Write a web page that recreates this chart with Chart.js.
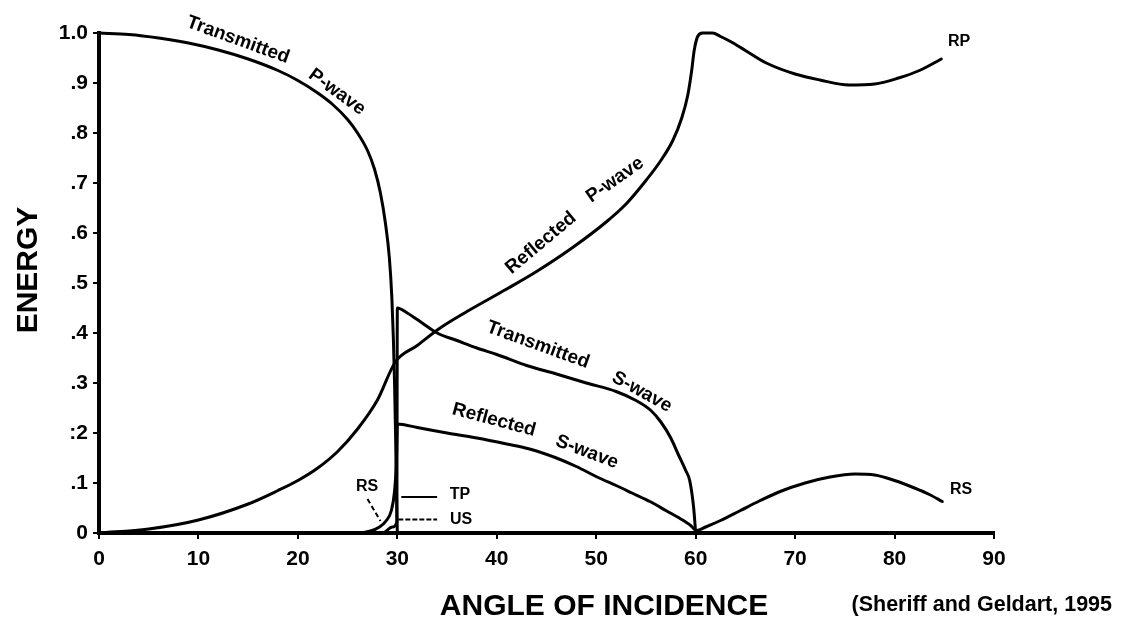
<!DOCTYPE html>
<html><head><meta charset="utf-8">
<script src="https://cdn.jsdelivr.net/npm/chart.js@4.4.1/dist/chart.umd.min.js"></script>
<style>html,body{margin:0;padding:0;background:#fff}#wrap{width:1123px;height:631px}</style>
</head><body><div id="wrap"><canvas id="c" width="1123" height="631"></canvas></div>
<script>
// ---- data (angle of incidence in degrees, energy fraction) ----
const yTickLabels = ['0', '.1', ':2', '.3', '.4', '.5', '.6', '.7', '.8', '.9', '1.0'];
const xTickValues = [0, 10, 20, 30, 40, 50, 60, 70, 80, 90];

const tpAngle  = [0, 3, 6, 9, 12, 15, 18, 20, 22, 23.5, 25, 26, 27, 27.7, 28.3, 28.8, 29.2, 29.45, 29.6, 29.72, 29.82, 29.9, 30];
const tpEnergy = [1.0, 0.997, 0.99, 0.98, 0.966, 0.948, 0.925, 0.905, 0.88, 0.857, 0.827, 0.8, 0.765, 0.728, 0.68, 0.62, 0.55, 0.47, 0.39, 0.3, 0.2, 0.1, 0];

const rpAngle  = [0, 5, 10, 15, 18, 20, 22, 24, 26, 28, 29.8, 32, 34.3, 37, 41, 44, 47.7, 51, 53, 55, 56.5, 57.7, 58.6, 59.2, 59.6, 59.85, 60.2, 60.7, 61.7, 62.5, 63.5, 65, 67.1, 70, 72.5, 75.4, 78, 80.4, 82.5, 84.7];
const rpEnergy = [0, 0.008, 0.026, 0.058, 0.085, 0.105, 0.13, 0.163, 0.208, 0.266, 0.342, 0.375, 0.41, 0.443, 0.488, 0.523, 0.572, 0.622, 0.658, 0.705, 0.745, 0.785, 0.83, 0.875, 0.925, 0.965, 0.993, 1.0, 1.0, 0.993, 0.983, 0.965, 0.94, 0.918, 0.906, 0.896, 0.898, 0.91, 0.925, 0.948];

const tsAngle  = [0, 28.5, 29.5, 29.95, 30, 31, 32.5, 34, 36, 38, 40, 43, 46, 49, 52, 54, 55.5, 56.5, 57.5, 58.3, 59, 59.4, 59.8, 60];
const tsEnergy = [0, 0, 0.012, 0.022, 0.45, 0.44, 0.42, 0.4, 0.385, 0.37, 0.357, 0.335, 0.318, 0.3, 0.283, 0.265, 0.245, 0.222, 0.19, 0.155, 0.125, 0.105, 0.05, 0];

const rsAngle  = [0, 26, 27.3, 28.2, 28.9, 29.4, 29.7, 29.9, 30, 32, 35, 38, 41, 43.3, 46, 48, 50.3, 52, 53.6, 55.5, 57, 58.5, 59.5, 60.1, 61, 62.5, 64.5, 66.4, 68.5, 71, 73.5, 76, 78, 80, 82, 83.5, 84.8];
const rsEnergy = [0, 0, 0.004, 0.012, 0.025, 0.045, 0.08, 0.14, 0.218, 0.211, 0.2, 0.19, 0.178, 0.168, 0.15, 0.133, 0.11, 0.095, 0.08, 0.062, 0.045, 0.028, 0.015, 0.005, 0.012, 0.025, 0.045, 0.064, 0.083, 0.1, 0.112, 0.118, 0.116, 0.105, 0.09, 0.077, 0.063];

const seriesNames = ['Transmitted P-wave', 'Reflected P-wave', 'Transmitted S-wave', 'Reflected S-wave'];

// ---- annotation texts (pixel placement) ----
const curveLabels = [
  { text: 'Transmitted', x: 238, y: 40,  rot: 20 },
  { text: 'P-wave',      x: 337, y: 92,  rot: 36 },
  { text: 'Reflected',   x: 541, y: 243, rot: -40 },
  { text: 'P-wave',      x: 615, y: 180, rot: -35 },
  { text: 'Transmitted', x: 538, y: 345, rot: 20 },
  { text: 'S-wave',      x: 642, y: 392, rot: 29 },
  { text: 'Reflected',   x: 494, y: 420, rot: 15 },
  { text: 'S-wave',      x: 587, y: 452, rot: 21 }
];
const smallLabels = [
  { text: 'RP', x: 959, y: 42 },
  { text: 'RS', x: 961, y: 490 },
  { text: 'RS', x: 367, y: 487 },
  { text: 'TP', x: 460, y: 495 },
  { text: 'US', x: 461, y: 520 }
];

const FONT = '"Liberation Sans", Arial, sans-serif';
function pts(a, v) { return a.map((x, i) => ({ x: x, y: v[i] })); }
function ds(label, a, v) {
  return { label: label, data: pts(a, v), borderColor: '#000', borderWidth: 3, pointRadius: 0,
           fill: false, cubicInterpolationMode: 'monotone', clip: false, borderCapStyle: 'round', borderJoinStyle: 'round' };
}

const decor = {
  id: 'decor',
  afterDatasetsDraw(chart) {
    const ctx = chart.ctx, xs = chart.scales.x, ys = chart.scales.y;
    ctx.save();
    ctx.fillStyle = '#000'; ctx.strokeStyle = '#000';
    // leader lines
    ctx.lineWidth = 2;
    ctx.beginPath();
    ctx.moveTo(xs.getPixelForValue(30.4), ys.getPixelForValue(0.072));
    ctx.lineTo(xs.getPixelForValue(34), ys.getPixelForValue(0.072));
    ctx.stroke();
    ctx.setLineDash([5, 2]);
    ctx.beginPath();
    ctx.moveTo(xs.getPixelForValue(30.1), ys.getPixelForValue(0.027));
    ctx.lineTo(xs.getPixelForValue(34), ys.getPixelForValue(0.027));
    ctx.stroke();
    ctx.setLineDash([5, 3]);
    ctx.beginPath();
    ctx.moveTo(xs.getPixelForValue(27.0), ys.getPixelForValue(0.068));
    ctx.lineTo(xs.getPixelForValue(28.3), ys.getPixelForValue(0.024));
    ctx.stroke();
    ctx.setLineDash([]);
    // curve labels
    ctx.textAlign = 'center'; ctx.textBaseline = 'middle';
    ctx.font = 'bold 19px ' + FONT;
    curveLabels.forEach(l => {
      ctx.save(); ctx.translate(l.x, l.y); ctx.rotate(l.rot * Math.PI / 180);
      ctx.fillText(l.text, 0, 0); ctx.restore();
    });
    ctx.font = 'bold 16px ' + FONT;
    smallLabels.forEach(l => ctx.fillText(l.text, l.x, l.y));
    // axis titles
    ctx.font = 'bold 30px ' + FONT;
    ctx.fillText('ANGLE OF INCIDENCE', 604, 607);
    ctx.save(); ctx.translate(29, 270); ctx.rotate(-Math.PI / 2);
    ctx.fillText('ENERGY', 0, 0); ctx.restore();
    // source
    ctx.font = 'bold 21.5px ' + FONT;
    ctx.textAlign = 'right';
    ctx.fillText('(Sheriff and Geldart, 1995', 1112, 605);
    ctx.restore();
  }
};

new Chart(document.getElementById('c'), {
  type: 'line',
  data: { datasets: [
    ds(seriesNames[0], tpAngle, tpEnergy),
    ds(seriesNames[1], rpAngle, rpEnergy),
    ds(seriesNames[2], tsAngle, tsEnergy),
    ds(seriesNames[3], rsAngle, rsEnergy)
  ]},
  options: {
    responsive: false, animation: false,
    layout: { padding: { left: 0, top: 33, right: 129, bottom: 0 } },
    plugins: { legend: { display: false }, tooltip: { enabled: false } },
    scales: {
      x: {
        type: 'linear', min: 0, max: 90,
        afterFit(s) { s.height = 98; },
        afterBuildTicks(s) { s.ticks = xTickValues.map(v => ({ value: v })); },
        grid: { drawOnChartArea: false, drawTicks: true, tickLength: 6, color: '#000', lineWidth: 2 },
        border: { display: true, color: '#000', width: 4 },
        ticks: { color: '#000', padding: 8, maxRotation: 0, font: { family: FONT, size: 21, weight: 'bold' } }
      },
      y: {
        type: 'linear', min: 0, max: 1,
        afterFit(s) { s.width = 99; },
        afterBuildTicks(s) { s.ticks = yTickLabels.map((t, i) => ({ value: i / 10 })); },
        grid: { drawOnChartArea: false, drawTicks: true, tickLength: 6, color: '#000', lineWidth: 2 },
        border: { display: true, color: '#000', width: 4 },
        ticks: { color: '#000', padding: 5, font: { family: FONT, size: 21, weight: 'bold' },
                 callback: (v, i) => yTickLabels[i] }
      }
    }
  },
  plugins: [decor]
});
</script>
</body></html>
